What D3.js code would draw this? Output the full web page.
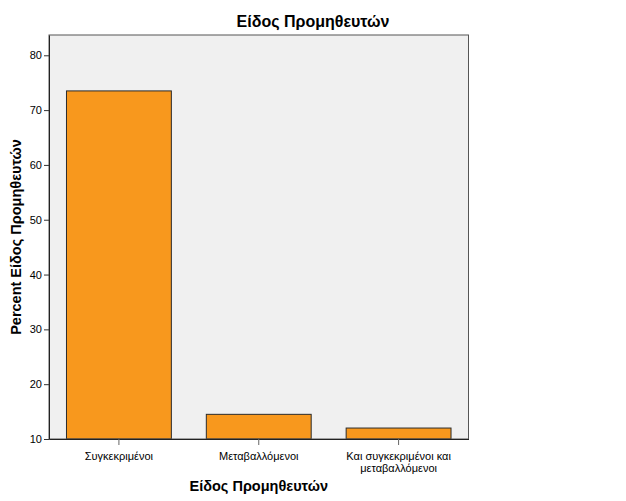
<!DOCTYPE html>
<html>
<head>
<meta charset="utf-8">
<script src="https://cdn.jsdelivr.net/npm/d3@7"></script>
<style>
  body { margin: 0; background: #fff; }
  text { font-family: "Liberation Sans", Arial, sans-serif; fill: #000; }
</style>
</head>
<body>
<div class="svg-container"></div>
<script>
// chart data
const categories = ["Συγκεκριμένοι", "Μεταβαλλόμενοι", "Και συγκεκριμένοι και μεταβαλλόμενοι"];
const categoryLines = [["Συγκεκριμένοι"], ["Μεταβαλλόμενοι"], ["Και συγκεκριμένοι και", "μεταβαλλόμενοι"]];
const percents = [73.5, 14.5, 12.0];
const yTicks = [10, 20, 30, 40, 50, 60, 70, 80];
const title = "Είδος Προμηθευτών";
const xTitle = "Είδος Προμηθευτών";
const yTitle = "Percent Είδος Προμηθευτών";

// establish margins
const margin = { top: 35, right: 157.5, bottom: 62, left: 49 };
const totalWidth = 626;
const totalHeight = 501;
const width = totalWidth - margin.left - margin.right;
const height = totalHeight - margin.top - margin.bottom;

const svg = d3
  .select(".svg-container")
  .append("svg")
  .attr("width", totalWidth)
  .attr("height", totalHeight);

const g = svg
  .append("g")
  .attr("transform", `translate(${margin.left},${margin.top})`);

// scales
const xScale = d3
  .scaleBand()
  .domain(categories)
  .range([0, width])
  .paddingInner(0.25)
  .paddingOuter(0.125);

const yScale = d3.scaleLinear().domain([10, 83.7]).range([height, 0]);

// plot background
g.append("rect")
  .attr("width", width)
  .attr("height", height)
  .attr("fill", "#f0f0f0");

// bars
g.selectAll(".bar")
  .data(percents)
  .enter()
  .append("rect")
  .attr("class", "bar")
  .attr("x", (d, i) => xScale(categories[i]))
  .attr("y", (d) => yScale(d))
  .attr("width", xScale.bandwidth())
  .attr("height", (d) => height - yScale(d))
  .attr("fill", "#f8981d")
  .attr("stroke", "#2b2b2b")
  .attr("stroke-width", 1);

// frame
g.append("rect")
  .attr("width", width)
  .attr("height", height)
  .attr("fill", "none")
  .attr("stroke", "#555")
  .attr("stroke-width", 1);

// y axis
const yAxis = g
  .append("g")
  .attr("class", "y-axis")
  .call(
    d3
      .axisLeft(yScale)
      .tickValues(yTicks)
      .tickSize(5)
      .tickSizeOuter(0)
      .tickPadding(2)
      .tickFormat(d3.format("d"))
  );
yAxis.select(".domain").attr("stroke", "#222");
yAxis.selectAll(".tick line").attr("stroke", "#333");
yAxis.selectAll(".tick text").style("font-size", "11px").attr("fill", "#000");

// x axis
const xAxis = g
  .append("g")
  .attr("class", "x-axis")
  .attr("transform", `translate(0,${height})`)
  .call(d3.axisBottom(xScale).tickSize(6).tickSizeOuter(0).tickFormat(""));
xAxis.select(".domain").attr("stroke", "#222");
xAxis.selectAll(".tick line").attr("stroke", "#666");

// wrapped category labels
xAxis
  .selectAll(".tick")
  .append("text")
  .attr("text-anchor", "middle")
  .style("font-size", "11px")
  .attr("fill", "#000")
  .each(function (d, i) {
    d3.select(this)
      .selectAll("tspan")
      .data(categoryLines[i])
      .enter()
      .append("tspan")
      .attr("x", 0)
      .attr("y", (t, j) => 21 + j * 12)
      .text((t) => t);
  });

// chart title (centred on the whole chart)
svg
  .append("text")
  .attr("x", totalWidth / 2)
  .attr("y", 27)
  .attr("text-anchor", "middle")
  .style("font-size", "16px")
  .style("font-weight", "bold")
  .text(title);

// x axis title
svg
  .append("text")
  .attr("x", margin.left + width / 2)
  .attr("y", 491)
  .attr("text-anchor", "middle")
  .style("font-size", "14.5px")
  .style("font-weight", "bold")
  .text(xTitle);

// y axis title
svg
  .append("text")
  .attr("transform", `translate(21,${margin.top + height / 2}) rotate(-90)`)
  .attr("text-anchor", "middle")
  .style("font-size", "14.5px")
  .style("font-weight", "bold")
  .text(yTitle);
</script>
</body>
</html>
